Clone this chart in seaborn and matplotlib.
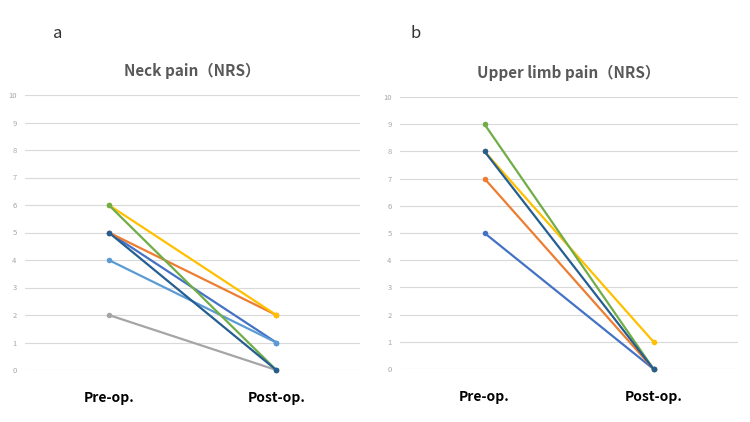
import pandas as pd
import matplotlib
matplotlib.use("Agg")
import matplotlib.pyplot as plt
import seaborn as sns

times = ["Pre-op.", "Post-op."]

# neck pain (NRS), one pair per patient
neck_ids = ["p1", "p2", "p3", "p4", "p5", "p6", "p7"]
neck_pre = [5, 5, 2, 6, 4, 6, 5]
neck_post = [1, 2, 0, 2, 1, 0, 0]
neck_colors = ["#4472C4", "#ED7D31", "#A5A5A5", "#FFC000", "#5B9BD5", "#70AD47", "#255E91"]

# upper limb pain (NRS)
limb_ids = ["p1", "p2", "p4", "p6", "p7"]
limb_pre = [5, 7, 8, 9, 8]
limb_post = [0, 0, 1, 0, 0]
limb_colors = ["#4472C4", "#ED7D31", "#FFC000", "#70AD47", "#255E91"]

sns.set_theme(style="white")
plt.rcParams["font.family"] = ["Noto Sans CJK JP", "DejaVu Sans"]


def long_df(ids, pre, post):
    rows = []
    for i, a, b in zip(ids, pre, post):
        rows.append({"patient": i, "time": times[0], "score": a})
        rows.append({"patient": i, "time": times[1], "score": b})
    return pd.DataFrame(rows)


def draw(ax, df, colors, title, letter, letter_x):
    ax.set_xlim(-0.5, 1.5)
    ax.set_ylim(0, 10)
    ax.set_yticks(range(0, 11))
    ax.yaxis.grid(True, color="#d9d9d9", linewidth=0.8)
    ax.set_axisbelow(True)
    sns.lineplot(data=df, x="time", y="score", hue="patient", palette=colors,
                 marker="o", markersize=4, markeredgewidth=0, linewidth=1.6,
                 legend=False, sort=False, ax=ax)
    for line in ax.lines:
        line.set_clip_on(False)
    ax.set_xticks([0, 1])
    ax.set_xticklabels(times, fontsize=10, fontweight="bold", color="black")
    ax.tick_params(axis="x", length=0, pad=15)
    ax.tick_params(axis="y", length=0, labelsize=5.5, labelcolor="#a6a6a6", pad=6)
    ax.set_xlabel("")
    ax.set_ylabel("")
    for s in ax.spines.values():
        s.set_visible(False)
    ax.set_title(title, fontsize=11, fontweight="bold", color="#595959", pad=14)
    fig.text(letter_x, 1 - 33 / 422, letter, fontsize=12, color="#333333",
             ha="center", va="center")


fig = plt.figure(figsize=(7.5, 4.22), dpi=100)
ax1 = fig.add_axes([25 / 750, 1 - 370 / 422, 335 / 750, 275 / 422])
ax2 = fig.add_axes([400 / 750, 1 - 369 / 422, 338 / 750, 272 / 422])

draw(ax1, long_df(neck_ids, neck_pre, neck_post), neck_colors,
     "Neck pain（NRS）", "a", 58 / 750)
draw(ax2, long_df(limb_ids, limb_pre, limb_post), limb_colors,
     "Upper limb pain（NRS）", "b", 416 / 750)

fig.savefig("out.png", dpi=100)
